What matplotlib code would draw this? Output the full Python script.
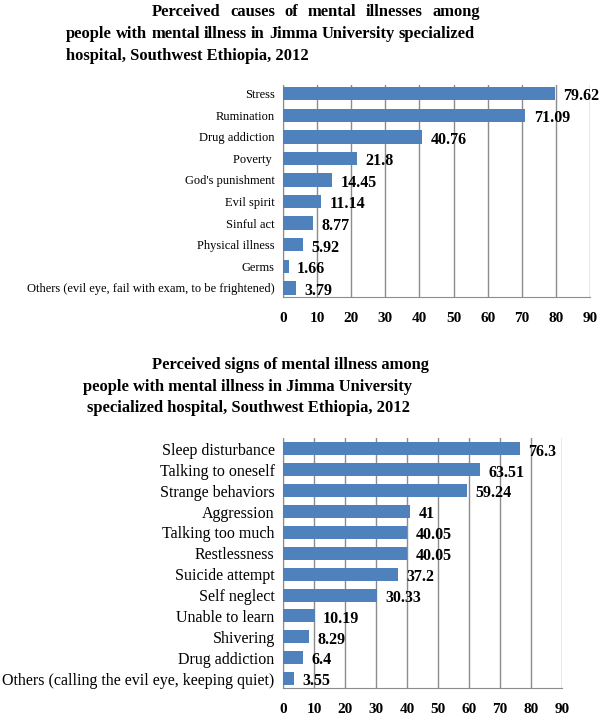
import matplotlib.pyplot as plt

# --- Data ---
causes = ["Stress", "Rumination", "Drug addiction", "Poverty ", "God's punishment",
          "Evil spirit", "Sinful act", "Physical illness", "Germs",
          "Others (evil eye, fail with exam, to be frightened)"]
causes_pct = [79.62, 71.09, 40.76, 21.8, 14.45, 11.14, 8.77, 5.92, 1.66, 3.79]

signs = ["Sleep disturbance", "Talking to oneself", "Strange behaviors", "Aggression",
         "Talking too much", "Restlessness", "Suicide attempt", "Self neglect",
         "Unable to learn", "Shivering", "Drug addiction",
         "Others (calling the evil eye, keeping quiet)"]
signs_pct = [76.3, 63.51, 59.24, 41, 40.05, 40.05, 37.2, 30.33, 10.19, 8.29, 6.4, 3.55]

xticks = [0, 10, 20, 30, 40, 50, 60, 70, 80, 90]

W, H = 600, 718
serif = ["Liberation Serif", "DejaVu Serif"]
bar_color = "#4F81BD"
grid_color = "#8C8C8C"

fig = plt.figure(figsize=(W / 100, H / 100), dpi=100)
renderer = fig.canvas.get_renderer()

# title font size: fit the longest line to its width in the reference
probe = fig.text(0, 0, "people with mental illness in Jimma University specialized",
                 family=serif, weight="bold", size=13)
TSIZE = 13 * 409 / probe.get_window_extent(renderer).width
probe.remove()


def title_line(text, y, x0, x1=None, size=TSIZE):
    # x0, x1, y in pixels from top-left; justify words between x0 and x1 if x1 given
    words = text.split()
    if x1 is None or len(words) == 1:
        fig.text(x0 / W, 1 - y / H, text, family=serif, weight="bold", size=size,
                 ha="left", va="center")
        return
    ts = [fig.text(0, 0, w, family=serif, weight="bold", size=size, va="center")
          for w in words]
    widths = [t.get_window_extent(renderer).width for t in ts]
    gap = (x1 - x0 - sum(widths)) / (len(words) - 1)
    x = x0
    for t, w in zip(ts, widths):
        t.set_position((x / W, 1 - y / H))
        x += w + gap


def bar_panel(rect, cats, vals, ylim, cat_size, val_size):
    left, top, right, bottom = rect
    ax = fig.add_axes([left / W, 1 - bottom / H, (right - left) / W, (bottom - top) / H])
    pos = list(range(len(cats)))
    ax.barh(pos, vals, height=0.62, color=bar_color, zorder=3)
    ax.set_xlim(0, 90)
    ax.set_ylim(*ylim)
    ax.set_xticks(xticks)
    ax.set_xticklabels([str(t) for t in xticks], family=serif, weight="bold", size=11)
    ax.set_yticks(pos)
    ax.set_yticklabels(cats, family=serif, size=cat_size)
    ax.tick_params(axis="x", length=0, pad=11)
    ax.tick_params(axis="y", length=0, pad=6)
    ax.grid(axis="x", color=grid_color, linewidth=1, zorder=0)
    for s in ["top", "right"]:
        ax.spines[s].set_visible(False)
    ax.spines["left"].set_color(grid_color)
    ax.spines["bottom"].set_color(grid_color)
    for p, v in zip(pos, vals):
        ax.annotate(f"{v:g}", (v, p), xytext=(6, -2), textcoords="offset points",
                    family=serif, weight="bold", size=val_size, ha="left", va="center")
    return ax


# --- Top chart ---
title_line("Perceived causes of mental illnesses among", 12, 152, 480)
title_line("people with mental illness in Jimma University specialized", 34, 66, 475)
title_line("hospital, Southwest Ethiopia, 2012", 56, 66)
bar_panel((283, 85, 590, 297), causes, causes_pct, (9.42, -0.4), 9, 11.5)

# --- Bottom chart ---
title_line("Perceived signs of mental illness among", 365, 152)
title_line("people with mental illness in Jimma University", 387, 83)
title_line("specialized hospital, Southwest Ethiopia, 2012", 408, 87)
bar_panel((283, 438, 562, 688), signs, signs_pct, (11.45, -0.52), 11.5, 11.5)

plt.savefig("out.png", dpi=100)
